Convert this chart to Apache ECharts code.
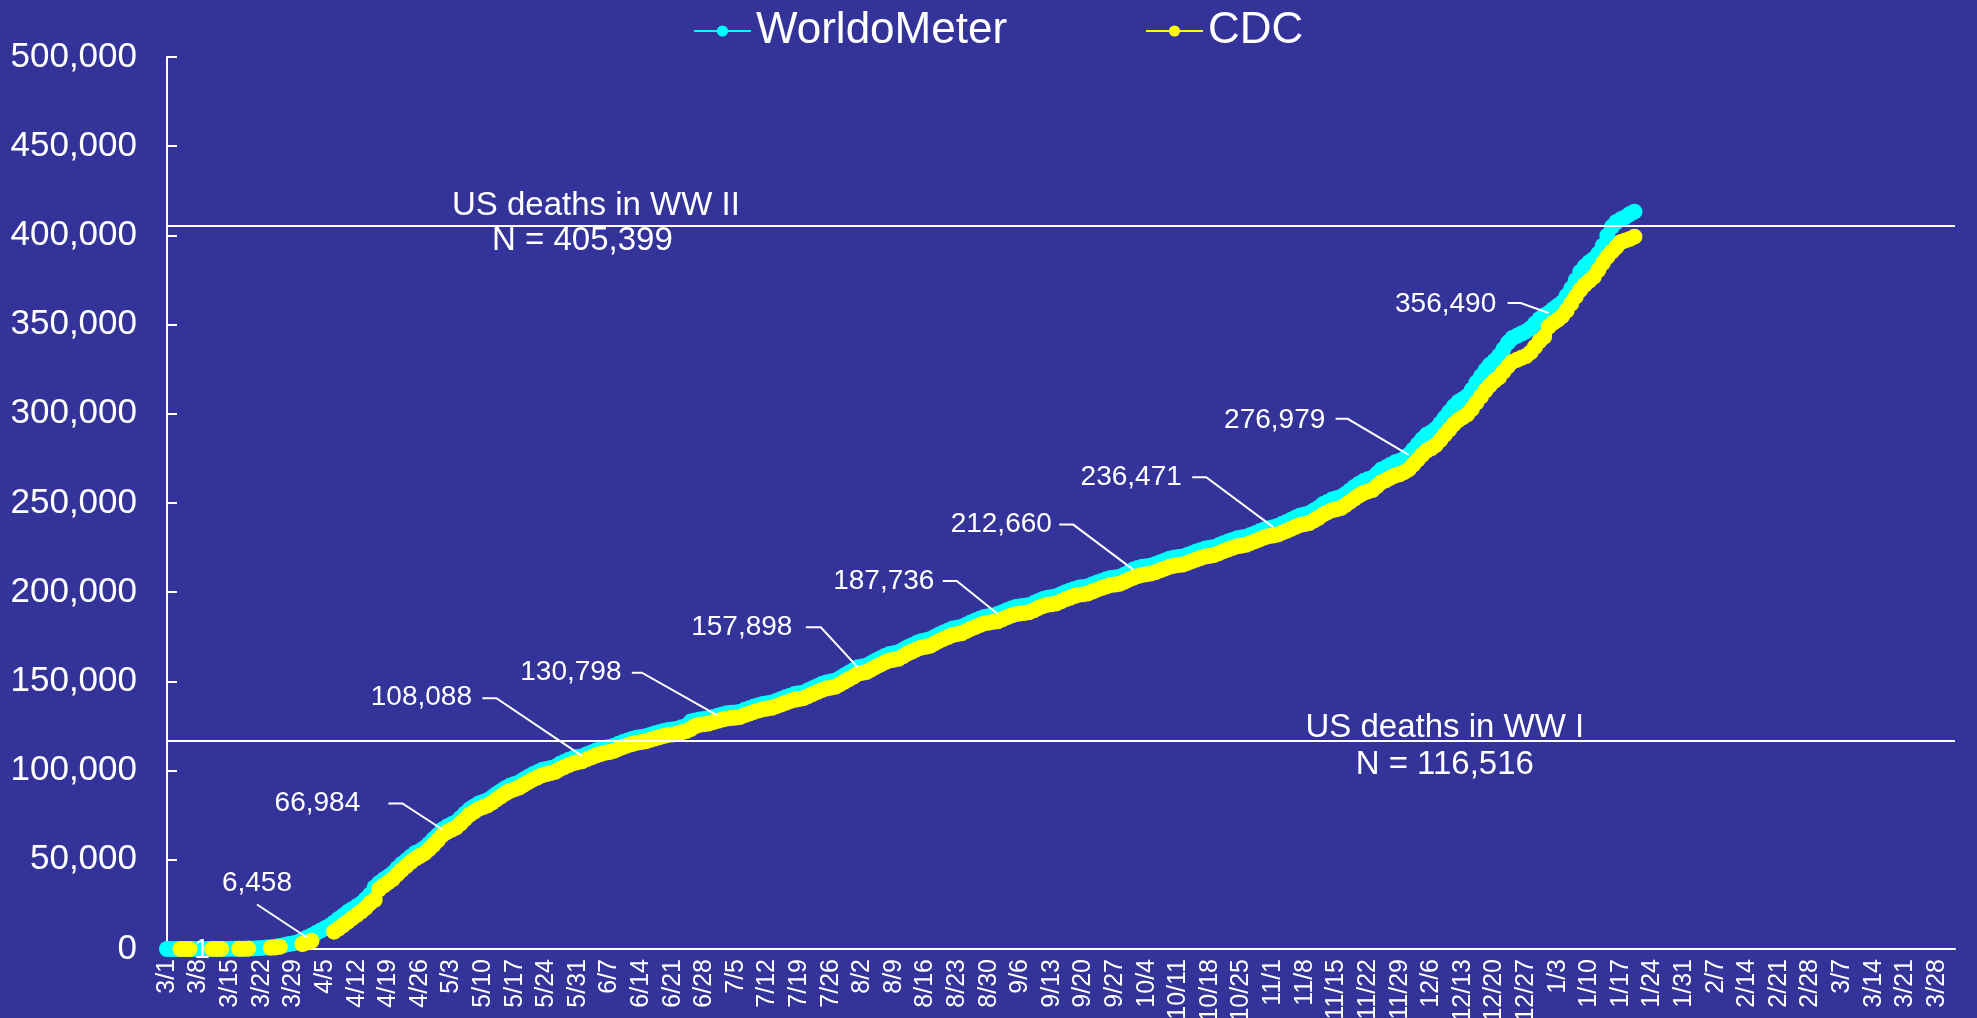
<!DOCTYPE html>
<html>
<head>
<meta charset="utf-8">
<title>US COVID-19 deaths</title>
<script src="https://cdn.jsdelivr.net/npm/echarts/dist/echarts.min.js"></script>
<style>
html, body { margin: 0; padding: 0; background: #333399; }
#main { width: 1977px; height: 1018px; }
</style>
</head>
<body>
<div id="main"></div>
<script>
// month / number of days shown on the x axis, 3/1/2020 .. 4/1/2021
const monthDays = [['3', 31], ['4', 30], ['5', 31], ['6', 30], ['7', 31], ['8', 31], ['9', 30], ['10', 31], ['11', 30], ['12', 31], ['1', 31], ['2', 28], ['3', 31], ['4', 1]]

// cumulative deaths, one value per day from 3/1/2020
const worldometer = [
	// March
	1, 6, 9, 11, 12, 15, 19, 22, 26, 30, 38, 41, 48, 58, 73, 99, 133, 202, 263, 348, 458, 596, 784, 1036, 1306, 1698, 2219, 2736, 3177, 3741, 5100,
	// April
	6458, 7600, 8900, 10300, 11600, 13000, 14900, 16800, 18700, 20700, 22300, 23900, 25500, 28000, 30600, 34600, 37000, 39000, 40700, 42500, 45300, 47700, 49700, 51900, 53800, 55000, 56600, 58900, 61600, 63900,
	// May
	66984, 68600, 69900, 71100, 73500, 76000, 78300, 79900, 81500, 82400, 83400, 85000, 86900, 88600, 90300, 91600, 92500, 93400, 95000, 96500, 97900, 99100, 100300, 100900, 101500, 102200, 103800, 104900, 106100, 107000, 107600,
	// June
	108088, 109200, 110200, 111200, 112000, 112800, 113200, 113900, 115000, 116000, 116900, 117700, 118400, 118800, 119200, 120000, 120800, 121500, 122200, 122800, 123100, 123500, 124300, 125000, 127500, 128100, 128600, 128900, 129300, 130100,
	// July
	130798, 131500, 132100, 132400, 132600, 133000, 134100, 135000, 135900, 136700, 137400, 137800, 138200, 139100, 140100, 141100, 142000, 142900, 143300, 143800, 145000, 146200, 147300, 148500, 149400, 149900, 150400, 151800, 153300, 154800, 156300,
	// August
	157898, 158400, 158900, 160300, 161700, 163000, 164300, 165300, 165800, 166300, 167700, 169200, 170300, 171500, 172500, 173000, 173600, 174900, 176300, 177400, 178500, 179600, 180100, 180600, 181800, 183000, 184100, 185100, 186100, 186500, 187000,
	// September
	187736, 188800, 189900, 190900, 191700, 192100, 192400, 192800, 193900, 195100, 196200, 196900, 197300, 197700, 198900, 200000, 200900, 201800, 202600, 202900, 203300, 204400, 205400, 206300, 207200, 208000, 208300, 208700, 209800, 211100,
	// October
	212660, 213500, 214200, 214600, 215000, 215800, 216800, 217700, 218700, 219300, 219700, 220000, 220900, 221900, 222800, 223700, 224500, 224900, 225400, 226400, 227500, 228400, 229300, 230200, 230600, 231100, 232100, 233100, 234100, 235100, 235900,
	// November
	236471, 237100, 238300, 239400, 240600, 241900, 243000, 243600, 244300, 245800, 247300, 249300, 250600, 251900, 252600, 253400, 255100, 257000, 259000, 260800, 262300, 263300, 264200, 266500, 268800, 270000, 271500, 272800, 273600, 274900,
	// December
	276979, 279900, 282900, 285800, 288300, 289700, 291600, 294600, 297900, 301000, 304100, 306600, 308200, 310000, 313500, 317500, 321000, 324500, 327500, 329800, 332500, 336300, 339900, 342500, 343700, 345000, 346200, 348000, 350600, 353200, 355100,
	// January
	356490, 358600, 360500, 362500, 366200, 370300, 374900, 379500, 382600, 385000, 386800, 389800, 394200, 399800, 404800, 407500, 409000, 410200, 412000, 413300
]

const cdc = [
	// March
	null, null, null, 5, 7, 9, null, null, null, null, 25, 30, 35, null, null, null, 90, 130, 180, null, null, null, null, 650, 900, 1200, null, null, null, null, 2800,
	// April
	3600, 4600, null, null, null, null, 9700, 11500, 13300, 15200, 17200, 19000, 20900, 23000, 25800, 27600, 33500, 35600, 37300, 39200, 41800, 44300, 46500, 48700, 50700, 52100, 53600, 55800, 58300, 60900,
	// May
	63800, 65500, 66800, 68000, 70300, 72800, 75200, 76900, 78500, 79500, 80500, 82000, 83900, 85600, 87300, 88700, 89600, 90500, 92000, 93500, 94900, 96100, 97300, 98000, 98600, 99300, 100800, 101900, 103100, 104100, 104700,
	// June
	105300, 106400, 107400, 108400, 109200, 110000, 110400, 111100, 112200, 113200, 114100, 114900, 115600, 116000, 116400, 117200, 118000, 118700, 119400, 120000, 120300, 120700, 121500, 122200, 123300, 125000, 125700, 126000, 126400, 127200,
	// July
	127900, 128600, 129200, 129500, 129700, 130100, 131100, 132000, 132900, 133700, 134400, 134800, 135200, 136100, 137000, 138000, 138900, 139700, 140100, 140600, 141700, 142900, 144000, 145100, 146000, 146500, 147000, 148300, 149800, 151200, 152600,
	// August
	154200, 154800, 155300, 156700, 158100, 159400, 160700, 161700, 162200, 162700, 164100, 165600, 166700, 167900, 168900, 169400, 170000, 171300, 172700, 173800, 174900, 176000, 176500, 177000, 178200, 179400, 180500, 181500, 182500, 182900, 183400,
	// September
	183700, 184800, 185900, 186900, 187700, 188100, 188400, 188800, 189900, 191100, 192200, 192900, 193300, 193700, 194900, 196000, 196900, 197800, 198600, 198900, 199300, 200400, 201400, 202300, 203200, 204000, 204300, 204700, 205800, 207000,
	// October
	208100, 209000, 209700, 210100, 210500, 211300, 212300, 213200, 214200, 214800, 215200, 215500, 216400, 217400, 218300, 219200, 220000, 220400, 220900, 221900, 223000, 223900, 224800, 225700, 226100, 226600, 227600, 228600, 229600, 230600, 231400,
	// November
	231800, 232300, 233400, 234400, 235500, 236700, 237700, 238200, 238800, 240200, 241600, 243500, 244700, 245900, 246500, 247200, 248800, 250600, 252500, 254200, 255600, 256500, 257300, 259500, 261700, 262800, 264200, 265400, 266100, 267300,
	// December
	268800, 271500, 274300, 277000, 279400, 280700, 282400, 285200, 288300, 291200, 294100, 296500, 298000, 299700, 302700, 306300, 309700, 313000, 316000, 318500, 320400, 323600, 326600, 329200, 330300, 331400, 332400, 334400, 337600, 340800, 343200,
	// January
	348800, 351000, 352600, 354700, 357900, 361800, 365700, 369400, 372300, 374500, 376800, 380500, 384500, 388000, 390900, 393500, 396300, 397200, 398000, 399300
]

// labelled points (day index into the series above) and their texts
const noteIdx = [0, 31, 61, 92, 122, 153, 184, 214, 245, 275, 306]
const noteText = ['1', '6,458', '66,984', '108,088', '130,798', '157,898', '187,736', '212,660', '236,471', '276,979', '356,490']

// reference lines
const refValues = [405399, 116516]
const refTitles = ['US deaths in WW II', 'US deaths in WW I']
const refNotes = ['N = 405,399', 'N = 116,516']

let dates = []
for (let i = 0; i < monthDays.length; i++) {
	for (let d = 1; d <= monthDays[i][1]; d++) {
		dates.push(monthDays[i][0] + '/' + d)
	}
}

const FONT = '"Liberation Sans", Arial, sans-serif'

let myChart = echarts.init(document.getElementById('main'))

let option = {
	backgroundColor: '#333399',
	animation: false,
	textStyle: {
		fontFamily: FONT,
		color: '#fff'
	},
	legend: {
		top: 4,
		left: 688,
		itemWidth: 57,
		itemHeight: 14,
		itemGap: 138,
		textStyle: {
			color: '#fff',
			fontSize: 44,
			fontFamily: FONT
		},
		data: ['WorldoMeter', 'CDC']
	},
	grid: {
		left: 167,
		right: 22,
		top: 57,
		bottom: 69,
		outerBoundsMode: 'none'
	},
	xAxis: {
		type: 'category',
		data: dates,
		boundaryGap: false,
		axisLine: {
			lineStyle: { color: '#fff', width: 2 }
		},
		axisTick: { show: false },
		axisLabel: {
			interval: 6,
			rotate: 90,
			margin: 10,
			color: '#fff',
			fontSize: 25,
			fontFamily: FONT
		},
		splitLine: { show: false }
	},
	yAxis: {
		type: 'value',
		min: 0,
		max: 500000,
		interval: 50000,
		axisLine: {
			show: true,
			lineStyle: { color: '#fff', width: 2 }
		},
		axisTick: {
			show: true,
			inside: true,
			length: 10,
			lineStyle: { color: '#fff', width: 2 }
		},
		axisLabel: {
			margin: 30,
			color: '#fff',
			fontSize: 35,
			fontFamily: FONT,
			formatter: function (v) {
				return v.toLocaleString('en-US')
			}
		},
		splitLine: { show: false }
	},
	series: [{
		name: 'WorldoMeter',
		type: 'line',
		data: worldometer,
		symbol: 'circle',
		symbolSize: 16,
		showAllSymbol: true,
		itemStyle: { color: '#00ffff' },
		lineStyle: { color: '#00ffff', width: 3 },
		markLine: {
			silent: true,
			symbol: 'none',
			label: { show: false },
			lineStyle: { color: '#fff', width: 2, type: 'solid' },
			data: refValues.map(function (v) { return { yAxis: v } })
		}
	}, {
		name: 'CDC',
		type: 'line',
		data: cdc,
		symbol: 'circle',
		symbolSize: 16,
		showAllSymbol: true,
		connectNulls: false,
		itemStyle: { color: '#ffff00' },
		lineStyle: { color: '#ffff00', width: 3 }
	}]
}

myChart.setOption(option)

// text offset and leader line (pixels, relative to the labelled point)
let noteLayout = [
	{ text: [35, 1], line: null },
	{ text: [-50, -54], line: [[-50, -33]] },
	{ text: [-125, -26], line: [[-54, -26], [-40, -26]] },
	{ text: [-161, -59], line: [[-100, -58], [-86, -58]] },
	{ text: [-147, -43], line: [[-86, -43], [-76, -43]] },
	{ text: [-116, -40], line: [[-52, -40], [-37, -40]] },
	{ text: [-114, -33], line: [[-55, -33], [-41, -33]] },
	{ text: [-132, -45], line: [[-74, -45], [-60, -45]] },
	{ text: [-142, -50], line: [[-81, -50], [-67, -50]] },
	{ text: [-134, -35], line: [[-73, -36], [-61, -36]] },
	{ text: [-103, -9], line: [[-41, -10], [-28, -10]] }
]

// reference line texts: category index for x, pixel offset from the line for y
let refLayout = [
	{ titleIdx: 95, titleDy: -20, noteIdx: 92, noteDy: 15 },
	{ titleIdx: 283, titleDy: -13, noteIdx: 283, noteDy: 24 }
]

function toPx(i, v) {
	return myChart.convertToPixel({ gridIndex: 0 }, [i, v])
}

function textEl(str, x, y, size) {
	return {
		type: 'text',
		z: 100,
		style: {
			text: str,
			x: x,
			y: y,
			fill: '#fff',
			font: size + 'px ' + FONT,
			align: 'center',
			verticalAlign: 'middle',
			textAlign: 'center',
			textVerticalAlign: 'middle'
		}
	}
}

let elements = []
for (let i = 0; i < noteIdx.length; i++) {
	let p = toPx(noteIdx[i], worldometer[noteIdx[i]])
	let lay = noteLayout[i]
	elements.push(textEl(noteText[i], p[0] + lay.text[0], p[1] + lay.text[1], 28))
	if (lay.line) {
		let pts = lay.line.map(function (o) { return [p[0] + o[0], p[1] + o[1]] })
		pts.push([p[0], p[1]])
		elements.push({
			type: 'polyline',
			z: 100,
			shape: { points: pts },
			style: { stroke: '#fff', lineWidth: 2, fill: null }
		})
	}
}

for (let i = 0; i < refValues.length; i++) {
	let lay = refLayout[i]
	let a = toPx(lay.titleIdx, refValues[i])
	let b = toPx(lay.noteIdx, refValues[i])
	elements.push(textEl(refTitles[i], a[0], a[1] + lay.titleDy, 33))
	elements.push(textEl(refNotes[i], b[0], b[1] + lay.noteDy, 33))
}

myChart.setOption({ graphic: { elements: elements } })
</script>
</body>
</html>
